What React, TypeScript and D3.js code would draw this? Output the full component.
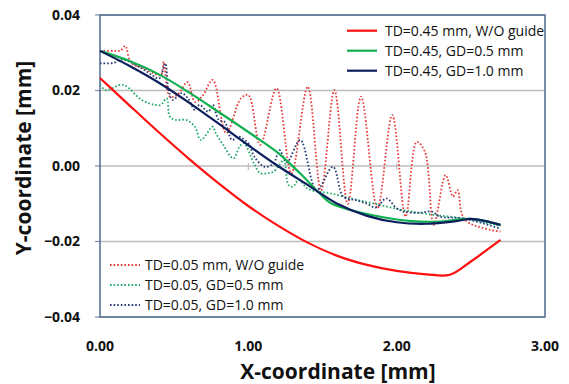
import React from "react";
import * as d3 from "d3";

// TD=0.45 mm series (solid)
const redSolidX = [0, 0.2, 0.4, 0.6, 0.8, 1.0, 1.2, 1.4, 1.6, 1.8, 2.0, 2.2, 2.36, 2.5, 2.7];
const redSolidY = [0.0233, 0.016, 0.0088, 0.0019, -0.0046, -0.0106, -0.0158, -0.0203, -0.0238, -0.0262, -0.0278, -0.0287, -0.0288, -0.0253, -0.0196];

const greenSolidX = [0, 0.2, 0.4, 0.6, 0.8, 1.0, 1.2, 1.35, 1.47, 1.55, 1.7, 1.9, 2.1, 2.3, 2.5, 2.7];
const greenSolidY = [0.0305, 0.0278, 0.0242, 0.0195, 0.0143, 0.009, 0.0035, -0.002, -0.0068, -0.0097, -0.0118, -0.0135, -0.0146, -0.0147, -0.014, -0.0156];

const navySolidX = [0, 0.2, 0.4, 0.6, 0.8, 1.0, 1.2, 1.4, 1.6, 1.8, 2.0, 2.2, 2.4, 2.5, 2.6, 2.7];
const navySolidY = [0.0305, 0.0265, 0.022, 0.0168, 0.0112, 0.0055, 0.0, -0.005, -0.01, -0.0132, -0.0149, -0.0153, -0.0146, -0.014, -0.0146, -0.0156];

// TD=0.05 mm series (dotted)
const redDotX = [0, 0.1, 0.14, 0.17, 0.21, 0.3, 0.41, 0.43, 0.47, 0.52, 0.59, 0.64, 0.69, 0.76, 0.85, 0.95, 1.0, 1.08, 1.19, 1.29, 1.4, 1.49, 1.58, 1.67, 1.76, 1.87, 1.97, 2.06, 2.135, 2.19, 2.25, 2.33, 2.38, 2.41, 2.46, 2.7];
const redDotY = [0.0305, 0.0305, 0.0306, 0.0318, 0.0273, 0.0258, 0.0241, 0.0276, 0.0184, 0.0188, 0.0222, 0.017, 0.0185, 0.0228, 0.0087, 0.0179, 0.0188, 0.0056, 0.0206, -0.002, 0.021, -0.0065, 0.0201, -0.01, 0.0184, -0.0112, 0.0135, -0.0134, 0.0064, 0.0038, -0.0156, -0.0024, -0.0081, -0.0064, -0.0143, -0.0174];

const greenDotX = [0, 0.04, 0.155, 0.28, 0.37, 0.41, 0.45, 0.47, 0.51, 0.58, 0.64, 0.68, 0.76, 0.78, 0.83, 0.9, 0.94, 0.97, 1.04, 1.08, 1.13, 1.17, 1.21, 1.24, 1.27, 1.3, 1.34, 1.4, 1.47, 1.55, 1.69, 1.84, 2.02, 2.22, 2.45, 2.7];
const greenDotY = [0.0215, 0.0201, 0.0215, 0.0175, 0.0162, 0.0162, 0.0179, 0.0131, 0.0122, 0.0122, 0.0104, 0.0069, 0.0104, 0.0087, 0.0056, 0.002, 0.0051, 0.006, 0.0005, -0.0019, -0.0019, -0.0015, 0.0003, 0.0016, -0.005, -0.0055, -0.0037, -0.006, -0.0068, -0.0072, -0.0086, -0.0099, -0.0115, -0.0128, -0.0139, -0.0159];

const navyDotX = [0, 0.09, 0.15, 0.28, 0.35, 0.4, 0.44, 0.46, 0.49, 0.55, 0.6, 0.64, 0.67, 0.73, 0.76, 0.8, 0.84, 0.89, 0.93, 1.0, 1.04, 1.11, 1.17, 1.21, 1.26, 1.35, 1.46, 1.57, 1.64, 1.72, 1.8, 1.86, 1.93, 2.0, 2.05, 2.15, 2.24, 2.29, 2.45, 2.7];
const navyDotY = [0.0272, 0.0273, 0.0282, 0.0259, 0.0241, 0.0232, 0.0272, 0.0206, 0.0175, 0.0193, 0.0175, 0.0148, 0.0162, 0.0144, 0.0162, 0.0122, 0.0117, 0.0069, 0.0078, 0.006, 0.0025, -0.0002, 0.0007, 0.0042, 0.001, 0.0069, -0.0064, -0.0002, -0.0081, -0.009, -0.01, -0.011, -0.0086, -0.0112, -0.0121, -0.0124, -0.0121, -0.0134, -0.0139, -0.0166];

const xTicks = [0, 1, 2, 3];
const yTicks = [0.04, 0.02, 0, -0.02, -0.04];

const topLegend = ["TD=0.45 mm, W/O guide", "TD=0.45, GD=0.5 mm", "TD=0.45, GD=1.0 mm"];
const bottomLegend = ["TD=0.05 mm, W/O guide", "TD=0.05, GD=0.5 mm", "TD=0.05, GD=1.0 mm"];

const RED = "#ff1010";
const GREEN = "#10b050";
const NAVY = "#0c1f5c";
const RED_DOT = "#e83838";
const GREEN_DOT = "#20a868";
const NAVY_DOT = "#283a78";

const W = 569;
const H = 384;
const margin = { left: 100, top: 15, right: 24, bottom: 67 };
const FONT = "'Open Sans', 'Noto Sans', sans-serif";

export default function App() {
  const x = d3.scaleLinear().domain([0, 3]).range([margin.left, W - margin.right]);
  const y = d3.scaleLinear().domain([-0.04, 0.04]).range([H - margin.bottom, margin.top]);

  const path = (xs: number[], ys: number[]) =>
    d3
      .line<[number, number]>()
      .x((d) => x(d[0]))
      .y((d) => y(d[1]))
      .curve(d3.curveCatmullRom.alpha(0.5))(xs.map((v, i) => [v, ys[i]] as [number, number])) || "";

  const solids = [
    { d: path(redSolidX, redSolidY), c: RED },
    { d: path(greenSolidX, greenSolidY), c: GREEN },
    { d: path(navySolidX, navySolidY), c: NAVY },
  ];
  const dots = [
    { d: path(redDotX, redDotY), c: RED_DOT },
    { d: path(greenDotX, greenDotY), c: GREEN_DOT },
    { d: path(navyDotX, navyDotY), c: NAVY_DOT },
  ];

  const x0 = x(0);
  const x1 = x(3);
  const yTop = y(0.04);
  const yBot = y(-0.04);

  return (
    <svg width={W} height={H} style={{ position: "absolute", left: 0, top: 0, background: "#fff" }} fontFamily={FONT}>
      {/* gridlines */}
      {yTicks.map((t) => (
        <line key={t} x1={x0} x2={x1} y1={y(t)} y2={y(t)} stroke="#bdbdbd" strokeWidth={1.5} />
      ))}
      {/* small ticks on the zero axis */}
      {xTicks.slice(1, 3).map((t) => (
        <line key={t} x1={x(t)} x2={x(t)} y1={y(0) - 3} y2={y(0) + 4} stroke="#bdbdbd" strokeWidth={1.2} />
      ))}
      {/* y ticks */}
      {yTicks.map((t) => (
        <line key={"yt" + t} x1={x0 - 5} x2={x0} y1={y(t)} y2={y(t)} stroke="#7d8ea8" strokeWidth={1.2} />
      ))}
      {/* frame */}
      <rect x={x0} y={yTop} width={x1 - x0} height={yBot - yTop} fill="none" stroke="#4f6a92" strokeWidth={1.5} />

      {/* series */}
      {dots.map((s, i) => (
        <path key={"d" + i} d={s.d} fill="none" stroke={s.c} strokeWidth={1.8} strokeDasharray="1.6 2" />
      ))}
      {solids.map((s, i) => (
        <path key={"s" + i} d={s.d} fill="none" stroke={s.c} strokeWidth={2.2} />
      ))}

      {/* y tick labels */}
      {yTicks.map((t) => (
        <text key={"yl" + t} x={80} y={y(t)} dy="0.35em" textAnchor="end" fontSize={14} fontWeight="bold" fill="#111">
          {d3.format(".2f")(t)}
        </text>
      ))}
      {/* x tick labels */}
      {xTicks.map((t) => (
        <text key={"xl" + t} x={x(t)} y={351} textAnchor="middle" fontSize={14} fontWeight="bold" fill="#111">
          {d3.format(".2f")(t)}
        </text>
      ))}

      {/* axis titles */}
      <text x={338} y={379} textAnchor="middle" fontSize={21} fontWeight="bold" fill="#111">
        X-coordinate [mm]
      </text>
      <text transform="translate(31,158) rotate(-90)" textAnchor="middle" fontSize={21} fontWeight="bold" fill="#111">
        Y-coordinate [mm]
      </text>

      {/* top legend */}
      {topLegend.map((label, i) => (
        <g key={label} transform={`translate(347,${30.7 + i * 20})`}>
          <line x1={0} x2={30} y1={0} y2={0} stroke={[RED, GREEN, NAVY][i]} strokeWidth={2.2} />
          <text x={38} y={0} dy="0.35em" fontSize={14} fill="#111">
            {label}
          </text>
        </g>
      ))}
      {/* bottom legend */}
      {bottomLegend.map((label, i) => (
        <g key={label} transform={`translate(110,${265 + i * 20})`}>
          <line x1={0} x2={30} y1={0} y2={0} stroke={[RED_DOT, GREEN_DOT, NAVY_DOT][i]} strokeWidth={1.8} strokeDasharray="1.6 2" />
          <text x={35} y={0} dy="0.35em" fontSize={14} fill="#111">
            {label}
          </text>
        </g>
      ))}
    </svg>
  );
}
